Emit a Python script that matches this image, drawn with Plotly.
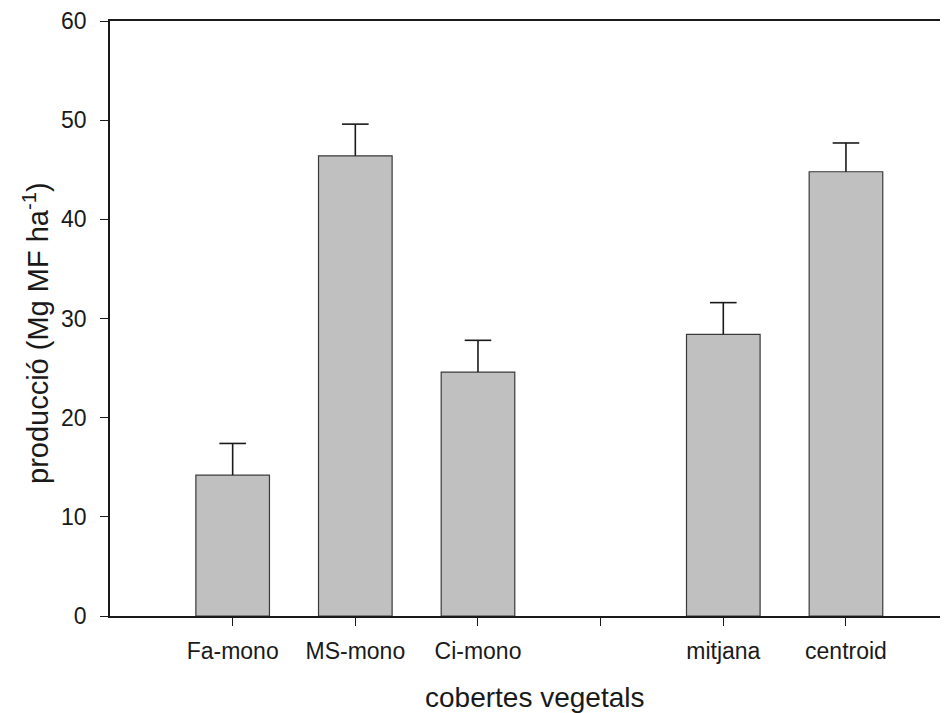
import plotly.graph_objects as go

cats = ["Fa-mono", "MS-mono", "Ci-mono", "", "mitjana", "centroid"]
pos = [1, 2, 3, 5, 6]
vals = [14.2, 46.4, 24.6, 28.4, 44.8]
errs = [3.2, 3.2, 3.2, 3.2, 2.9]

W, H = 948, 713
OFF = 8  # page body margin
L, T = 110 - OFF, 21 - OFF
BOT = 616 - OFF
B = H - BOT
PW = W - L
PH = BOT - T
FONT = "Liberation Sans, Arial, sans-serif"
INK = "#1a1a1a"

fig = go.Figure()
fig.add_trace(go.Bar(
    x=pos, y=vals, width=0.6,
    marker=dict(color="#C0C0C0", line=dict(color="#3a3a3a", width=1.2)),
    hoverinfo="skip",
))
# one-sided error bars: stem + top cap
ex, ey = [], []
for p, v, e in zip(pos, vals, errs):
    ex += [p, p, None]
    ey += [v, v + e, None]
fig.add_trace(go.Scatter(x=ex, y=ey, mode="lines", line=dict(color=INK, width=1.6),
                         hoverinfo="skip"))
fig.add_trace(go.Scatter(x=pos, y=[v + e for v, e in zip(vals, errs)], mode="markers",
                         marker=dict(symbol="line-ew", size=19, line=dict(color=INK, width=1.6)),
                         hoverinfo="skip"))

fig.update_layout(
    width=W, height=H, margin=dict(l=L, r=0, t=T, b=B),
    paper_bgcolor="white", plot_bgcolor="white", showlegend=False,
    font=dict(family=FONT, size=23, color=INK),
    xaxis=dict(range=[0, (W - 110) / 121.5], tickvals=[1, 2, 3, 4, 5, 6], ticktext=cats,
               ticks="outside", ticklen=8, tickwidth=1.3, tickcolor=INK,
               showline=True, linecolor=INK, linewidth=1.6, mirror=True,
               showgrid=False, zeroline=False, ticklabelstandoff=6,
               tickfont=dict(size=23)),
    yaxis=dict(range=[0, 60], tickvals=[0, 10, 20, 30, 40, 50, 60],
               ticks="outside", ticklen=8, tickwidth=1.3, tickcolor=INK,
               showline=True, linecolor=INK, linewidth=1.6,
               showgrid=False, zeroline=False, ticklabelstandoff=9,
               tickfont=dict(size=23)),
)

fig.add_annotation(xref="paper", yref="paper", x=(534 - 110) / PW, y=-(697 - 616) / PH,
                   xanchor="center", yanchor="middle",
                   text="cobertes vegetals", showarrow=False,
                   font=dict(family=FONT, size=28, color=INK))
fig.add_annotation(xref="paper", yref="paper", x=-(110 - 36) / PW, y=(616 - 333) / PH,
                   xanchor="center", yanchor="middle",
                   text="producció (Mg MF ha<sup>-1</sup>)", showarrow=False, textangle=-90,
                   font=dict(family=FONT, size=29, color=INK))

fig.write_html("out.html")
